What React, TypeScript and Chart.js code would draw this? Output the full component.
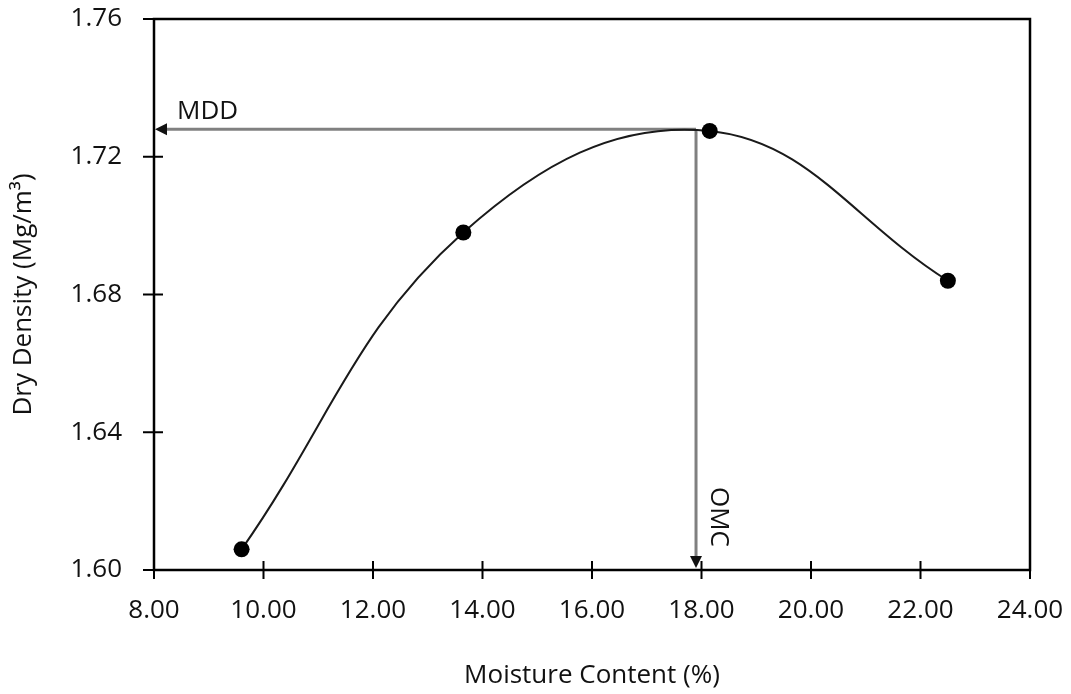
import { useEffect, useRef } from 'react';
import { Chart, registerables } from 'chart.js';

Chart.register(...registerables);

// Compaction test results
const moistureContent = [9.6, 13.65, 18.15, 22.5];
const dryDensity = [1.606, 1.698, 1.7275, 1.684];

// Values
const maxDryDensity = 1.728; // MDD
const optimumMoisture = 17.9; // OMC

const xTickValues = [8, 10, 12, 14, 16, 18, 20, 22, 24];
const yTickValues = [1.6, 1.64, 1.68, 1.72, 1.76];

const FONT = "'Open Sans', 'DejaVu Sans', sans-serif";
const TEXT = '#111';
const SIZE = 26;

const overlayPlugin = {
  id: 'compactionOverlay',
  beforeDatasetsDraw(chart: any) {
    const { ctx, chartArea } = chart;
    const x = chart.scales.x;
    const y = chart.scales.y;
    const px = x.getPixelForValue(optimumMoisture);
    const py = y.getPixelForValue(maxDryDensity);

    ctx.save();
    // MDD / OMC guide lines
    ctx.strokeStyle = '#808080';
    ctx.lineWidth = 3;
    ctx.beginPath();
    ctx.moveTo(px, py);
    ctx.lineTo(chartArea.left + 10, py);
    ctx.stroke();
    ctx.beginPath();
    ctx.moveTo(px, py);
    ctx.lineTo(px, chartArea.bottom - 10);
    ctx.stroke();

    // arrowheads
    ctx.fillStyle = '#111';
    ctx.beginPath();
    ctx.moveTo(chartArea.left + 1, py);
    ctx.lineTo(chartArea.left + 13, py - 6);
    ctx.lineTo(chartArea.left + 13, py + 6);
    ctx.closePath();
    ctx.fill();
    ctx.beginPath();
    ctx.moveTo(px, chartArea.bottom - 2);
    ctx.lineTo(px - 6, chartArea.bottom - 14);
    ctx.lineTo(px + 6, chartArea.bottom - 14);
    ctx.closePath();
    ctx.fill();

    // labels
    ctx.fillStyle = TEXT;
    ctx.font = `${SIZE}px ${FONT}`;
    ctx.textAlign = 'left';
    ctx.textBaseline = 'middle';
    ctx.fillText('MDD', chartArea.left + 23, py - 18);

    ctx.translate(px + 22, chartArea.bottom - 53);
    ctx.rotate(Math.PI / 2);
    ctx.textAlign = 'center';
    ctx.fillText('OMC', 0, 0);
    ctx.restore();
  },
  afterDraw(chart: any) {
    const { ctx, chartArea } = chart;
    const x = chart.scales.x;
    const y = chart.scales.y;
    ctx.save();
    ctx.strokeStyle = '#000';
    ctx.lineWidth = 2.5;
    ctx.strokeRect(chartArea.left, chartArea.top, chartArea.right - chartArea.left, chartArea.bottom - chartArea.top);
    ctx.lineWidth = 2;
    ctx.beginPath();
    xTickValues.forEach((v) => {
      const p = x.getPixelForValue(v);
      ctx.moveTo(p, chartArea.bottom - 9);
      ctx.lineTo(p, chartArea.bottom + 9);
    });
    yTickValues.forEach((v) => {
      const p = y.getPixelForValue(v);
      ctx.moveTo(chartArea.left - 11, p);
      ctx.lineTo(chartArea.left + 9, p);
    });
    ctx.stroke();
    ctx.restore();
  },
};

export default function App() {
  const canvasRef = useRef<HTMLCanvasElement | null>(null);

  useEffect(() => {
    if (!canvasRef.current) return;
    const chart = new Chart(canvasRef.current, {
      type: 'scatter',
      data: {
        datasets: [
          {
            label: 'Dry Density',
            data: moistureContent.map((m, i) => ({ x: m, y: dryDensity[i] })),
            showLine: true,
            tension: 0.4,
            borderColor: '#1a1a1a',
            borderWidth: 2,
            pointRadius: 8,
            pointHoverRadius: 8,
            pointBackgroundColor: '#000',
            pointBorderColor: '#000',
            pointBorderWidth: 0,
          },
        ],
      },
      options: {
        responsive: false,
        animation: false,
        layout: { padding: { top: 19, right: 41, left: 0, bottom: 0 } },
        plugins: {
          legend: { display: false },
          tooltip: { enabled: false },
        },
        scales: {
          x: {
            type: 'linear',
            min: 8,
            max: 24,
            afterBuildTicks: (s: any) => {
              s.ticks = xTickValues.map((v) => ({ value: v }));
            },
            afterFit: (s: any) => {
              s.height = 124;
            },
            // tick marks are drawn by the overlay plugin; tickLength only spaces the labels
            grid: { display: false, drawTicks: true, tickLength: 22 },
            border: { display: false },
            ticks: {
              padding: 3,
              color: TEXT,
              font: { family: FONT, size: SIZE },
              maxRotation: 0,
              callback: (v: any) => Number(v).toFixed(2),
            },
            title: {
              display: true,
              text: 'Moisture Content (%)',
              color: TEXT,
              font: { family: FONT, size: SIZE },
              padding: { top: 0, bottom: 3 },
            },
          },
          y: {
            type: 'linear',
            min: 1.6,
            max: 1.76,
            afterBuildTicks: (s: any) => {
              s.ticks = yTickValues.map((v) => ({ value: v }));
            },
            afterFit: (s: any) => {
              s.width = 154;
            },
            grid: { display: false, drawTicks: true, tickLength: 29 },
            border: { display: false },
            ticks: {
              padding: 3,
              color: TEXT,
              font: { family: FONT, size: SIZE },
              callback: (v: any) => Number(v).toFixed(2),
            },
            title: {
              display: true,
              text: 'Dry Density (Mg/m³)',
              color: TEXT,
              font: { family: FONT, size: SIZE },
              padding: { top: 8, bottom: 0 },
            },
          },
        },
      },
      plugins: [overlayPlugin],
    });
    return () => chart.destroy();
  }, []);

  return (
    <div style={{ position: 'fixed', left: 0, top: 0, width: 1071, height: 694, background: '#fff' }}>
      <canvas ref={canvasRef} width={1071} height={694} />
    </div>
  );
}
